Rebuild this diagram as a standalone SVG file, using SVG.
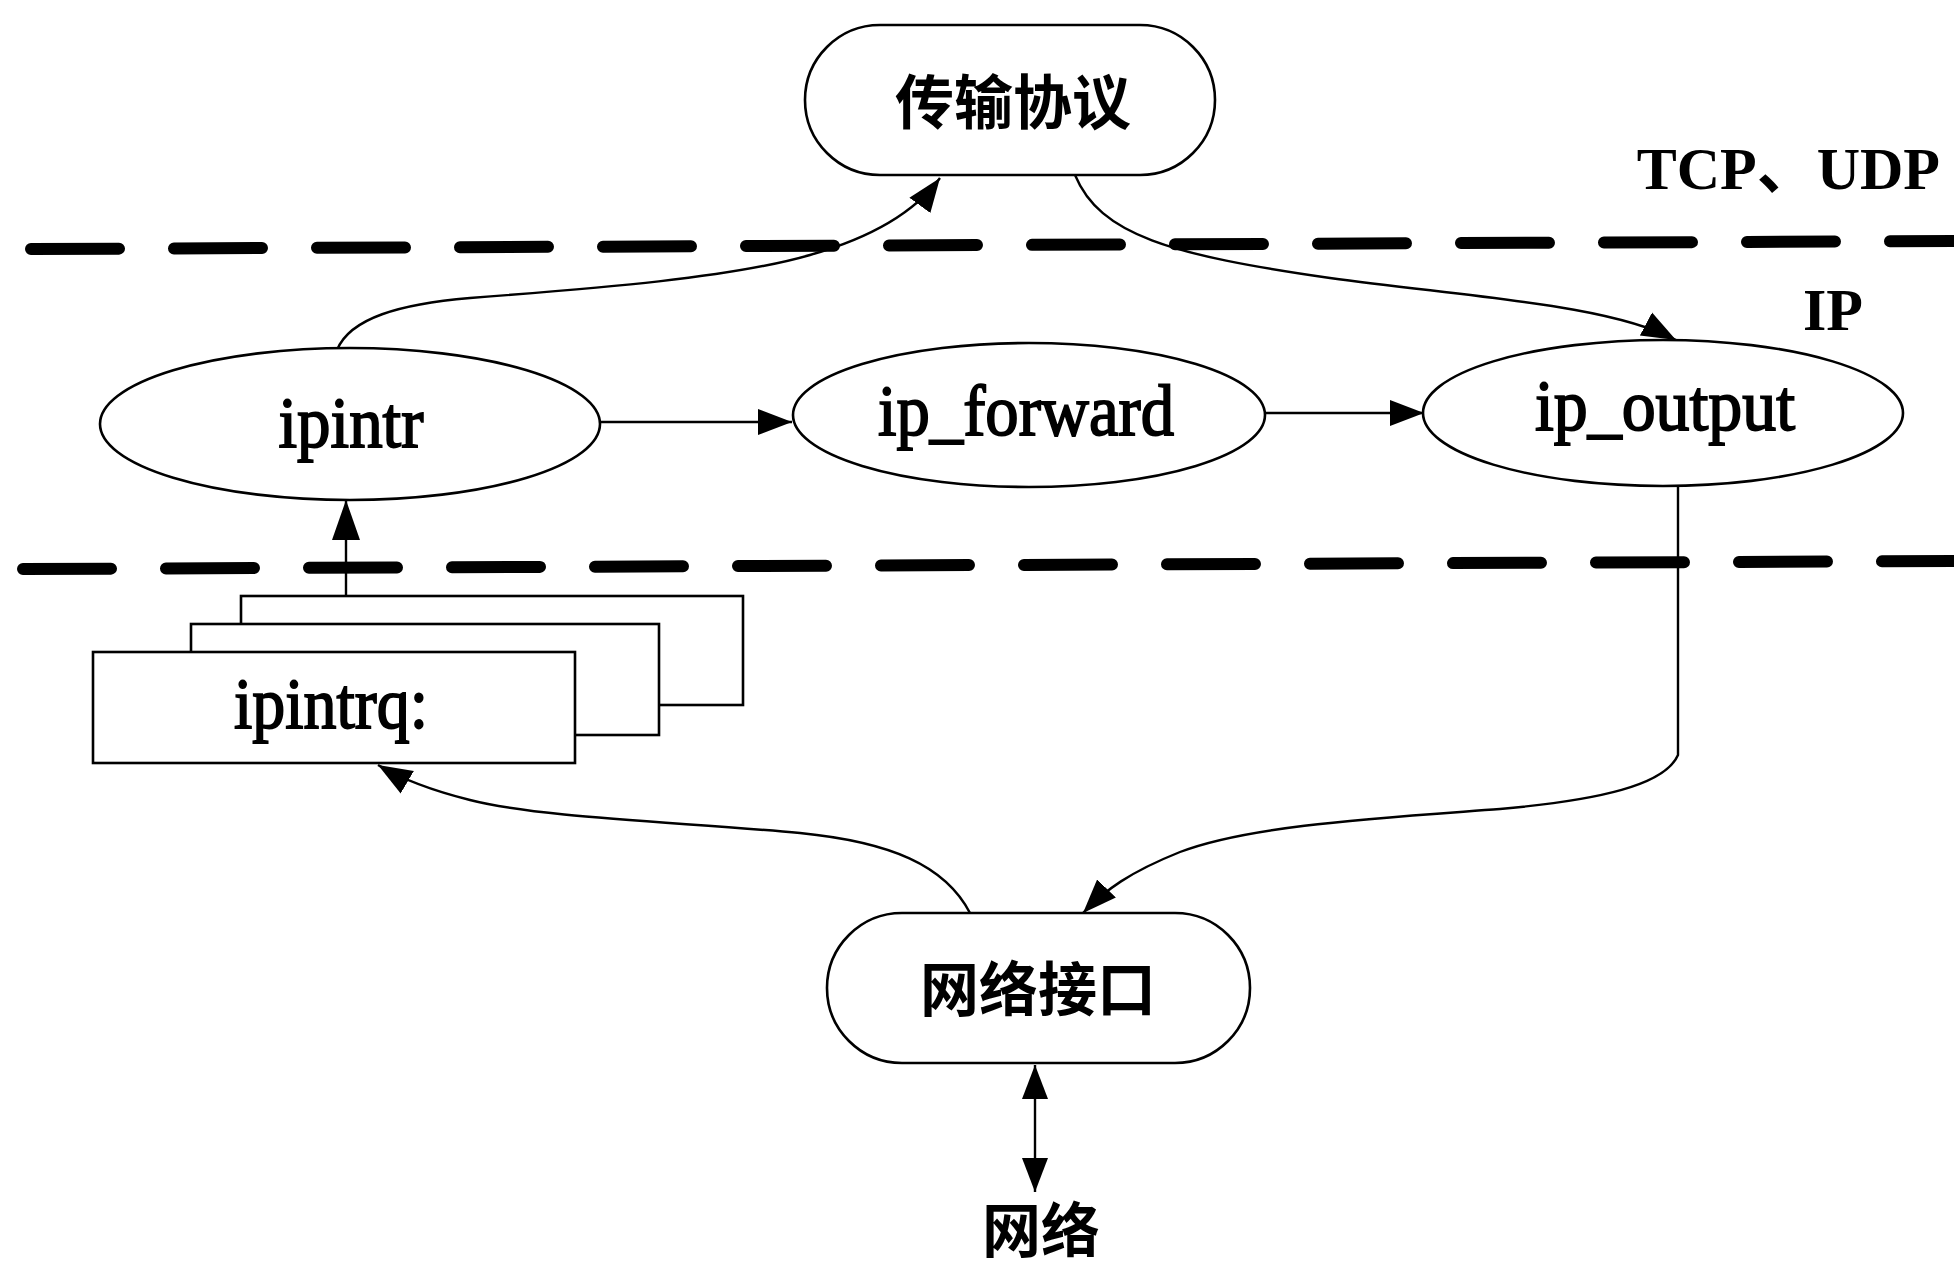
<svg xmlns="http://www.w3.org/2000/svg" width="1954" height="1270" viewBox="0 0 1954 1270">
<style>
.bg{fill:#fff}
.shape{fill:#fff;stroke:#000;stroke-width:2.6}
.conn{fill:none;stroke:#000;stroke-width:2.4}
.dash{stroke:#000;stroke-width:12;stroke-dasharray:88 55;stroke-linecap:round}
.lat{font-family:"Liberation Serif","Times New Roman",serif;font-size:72px;fill:#000;stroke:#000;stroke-width:1.8;text-anchor:middle}
.lbl{font-family:"Liberation Serif","Noto Sans CJK SC",serif;font-weight:bold;font-size:60px;fill:#000}
.cjk{font-family:"Noto Sans CJK SC",sans-serif;font-weight:bold;font-size:59px;fill:#000;text-anchor:middle}
</style>
<defs>
<marker id="ah" markerUnits="userSpaceOnUse" markerWidth="36" markerHeight="30" refX="34" refY="14" orient="auto-start-reverse">
<path d="M0,1 L34,14 L0,27 Z" fill="#000"/>
</marker>
<marker id="ahl" markerUnits="userSpaceOnUse" markerWidth="42" markerHeight="30" refX="40" refY="14" orient="auto">
<path d="M0,0 L40,14 L0,28 Z" fill="#000"/>
</marker>
</defs>
<rect class="bg" x="0" y="0" width="1954" height="1270"/>

<g id="layers">
<line class="dash" x1="31" y1="249" x2="1970" y2="241"/>
<line class="dash" x1="23" y1="569" x2="1970" y2="561"/>
<text class="lbl" x="1940" y="189" text-anchor="end" font-size="58">TCP、UDP</text>
<text class="lbl" x="1833" y="330" text-anchor="middle">IP</text>
</g>

<g id="connectors">
<path class="conn" d="M337,350 C350,318 400,304 470,298 C600,288 730,278 810,255 C870,238 915,212 940,178" marker-end="url(#ah)"/>
<path class="conn" d="M1075,175 C1100,235 1170,255 1330,278 C1480,298 1610,305 1676,340" marker-end="url(#ah)"/>
<path class="conn" d="M600,422 L792,422" marker-end="url(#ah)"/>
<path class="conn" d="M1266,413 L1424,413" marker-end="url(#ah)"/>
<path class="conn" d="M346,597 L346,500" marker-end="url(#ahl)"/>
<path class="conn" d="M1678,486 V755 C1665,785 1600,800 1500,809 C1380,818 1250,825 1180,852 C1130,872 1105,890 1083,913" marker-end="url(#ah)"/>
<path class="conn" d="M970,913 C945,865 890,842 800,833 C680,822 540,818 470,800 C430,790 400,778 378,765" marker-end="url(#ah)"/>
<path class="conn" d="M1035,1065 L1035,1192" marker-start="url(#ah)" marker-end="url(#ah)"/>
</g>

<g id="node-transport">
<rect class="shape" x="805" y="25" width="410" height="150" rx="75" ry="75"/>
<text class="cjk" x="1013" y="124" font-size="60">传输协议</text>
</g>

<g id="node-ipintr">
<ellipse class="shape" cx="350" cy="424" rx="250" ry="76"/>
<text class="lat" x="351" y="447" textLength="145" lengthAdjust="spacingAndGlyphs">ipintr</text>
</g>

<g id="node-ip_forward">
<ellipse class="shape" cx="1029" cy="415" rx="236" ry="72"/>
<text class="lat" x="1026" y="435" textLength="296" lengthAdjust="spacingAndGlyphs">ip_forward</text>
</g>

<g id="node-ip_output">
<ellipse class="shape" cx="1663" cy="413" rx="240" ry="73"/>
<text class="lat" x="1665" y="430" textLength="260" lengthAdjust="spacingAndGlyphs">ip_output</text>
</g>

<g id="node-ipintrq">
<rect class="shape" x="241" y="596" width="502" height="109"/>
<rect class="shape" x="191" y="624" width="468" height="111"/>
<rect class="shape" x="93" y="652" width="482" height="111"/>
<text class="lat" x="331" y="728" textLength="194" lengthAdjust="spacingAndGlyphs">ipintrq:</text>
</g>

<g id="node-netif">
<rect class="shape" x="827" y="913" width="423" height="150" rx="75" ry="75"/>
<text class="cjk" x="1038" y="1011" font-size="58">网络接口</text>
</g>

<g id="node-network">
<text class="cjk" x="1041" y="1252" font-size="56">网络</text>
</g>
</svg>
